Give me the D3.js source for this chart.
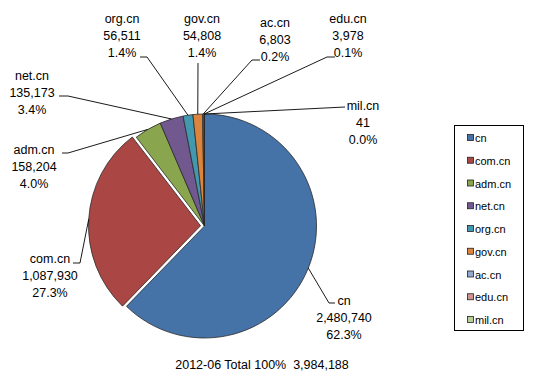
<!DOCTYPE html>
<html><head><meta charset="utf-8">
<script src="https://cdn.jsdelivr.net/npm/d3@7"></script>
<style>body{margin:0;background:#fff}</style>
</head><body>
<svg id="c" width="539" height="378"></svg>
<script>
const categories = ["cn","com.cn","adm.cn","net.cn","org.cn","gov.cn","ac.cn","edu.cn","mil.cn"];
const values = [2480740,1087930,158204,135173,56511,54808,6803,3978,41];
const colors = ["#4572A7","#AA4643","#89A54E","#71588F","#4198AF","#DB843D","#93A9CF","#D19392","#B9CD96"];
const titleText = "2012-06 Total 100%  3,984,188";

// layout for labels: [text center x, first line center y, elbow x, elbow y, end x]
const labelLayout = [
  [344,300,329,303,335],
  [50,258,80,263,73],
  [34,149,68,153,62],
  [32,75,68,96,59],
  [122,18,147,57,140],
  [202,18,198,63,198],
  [275,22,252,60,260],
  [348,18,327,57,335],
  [363,105,345,107,345]
];

const svg = d3.select("#c");
const cx = 204.5, cy = 226, R = 112;
const font = "'Liberation Sans', Arial, sans-serif";
const total = d3.sum(values);
const pie = d3.pie().sort(null).value(d=>d)(values);
const arc = d3.arc().innerRadius(0).outerRadius(R);
const explode = [0,4,0,0,0,0,0,0,0];

const g = svg.append("g").attr("transform",`translate(${cx},${cy})`);
g.selectAll("path").data(pie).join("path")
  .attr("d",arc)
  .attr("fill",(d,i)=>colors[i])
  .attr("stroke","#2a2a2a").attr("stroke-width",0.8)
  .attr("transform",(d,i)=>{
    const a=(d.startAngle+d.endAngle)/2;
    return `translate(${Math.sin(a)*explode[i]},${-Math.cos(a)*explode[i]})`;
  });

const fmt = d3.format(",");
const pfmt = d3.format(".1%");
pie.forEach((d,i)=>{
  const a=(d.startAngle+d.endAngle)/2;
  const sx = cx + Math.sin(a)*(R+explode[i]), sy = cy - Math.cos(a)*(R+explode[i]);
  const L = labelLayout[i];
  svg.append("polyline")
    .attr("points",`${sx},${sy} ${L[2]},${L[3]} ${L[4]},${L[3]}`)
    .attr("fill","none").attr("stroke","#000").attr("stroke-width",0.9);
  const lines=[categories[i],fmt(values[i]),pfmt(values[i]/total)];
  lines.forEach((t,k)=>{
    svg.append("text").attr("x",L[0]).attr("y",L[1]+k*17.3+4.5)
      .attr("text-anchor","middle").attr("font-family",font).attr("font-size","12.5px")
      .attr("fill","#000").text(t);
  });
});

svg.append("text").attr("x",262).attr("y",369).attr("text-anchor","middle")
  .attr("font-family",font).attr("font-size","12.5px").attr("xml:space","preserve")
  .style("white-space","pre").text(titleText);

// legend
svg.append("rect").attr("x",454.5).attr("y",125.5).attr("width",69).attr("height",205)
  .attr("fill","#fff").attr("stroke","#000");
const lg = svg.append("g");
categories.forEach((c,i)=>{
  const y = 138 + i*22.75;
  lg.append("rect").attr("x",467.5).attr("y",y-3.5).attr("width",6).attr("height",6)
    .attr("fill",colors[i]).attr("stroke","#222").attr("stroke-width",0.8);
  lg.append("text").attr("x",475).attr("y",y+4).attr("font-family",font).attr("font-size","11px").text(c);
});
</script>
</body></html>
